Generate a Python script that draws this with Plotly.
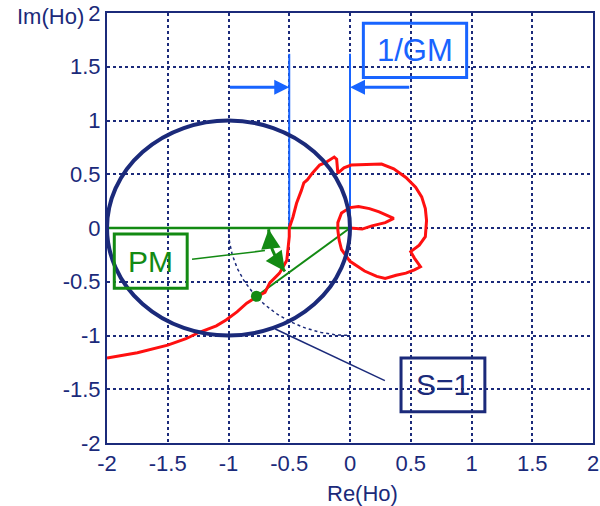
import numpy as np
import plotly.graph_objects as go

NAVY = "#1b2a7a"
RED = "#ff1010"
BLUE = "#1864ff"
GREEN = "#138a13"
FONT = "Liberation Sans, Arial, sans-serif"

# Nyquist curve of Ho
nyq_re = [-2.0, -1.75, -1.5, -1.35, -1.24, -1.1, -1.02, -0.93, -0.85, -0.8, -0.76, -0.7,
          -0.66, -0.58, -0.52, -0.5, -0.5, -0.47, -0.44, -0.4, -0.38, -0.35, -0.31, -0.25,
          -0.2, -0.13, -0.11, -0.1, -0.05, 0.01, 0.15, 0.26, 0.36, 0.46, 0.54, 0.59, 0.62,
          0.63, 0.62, 0.57, 0.5, 0.53, 0.58, 0.53, 0.46, 0.38, 0.29, 0.22, 0.12, 0.05, 0.0,
          -0.07, -0.09, -0.1, -0.1, -0.07, 0.0, 0.07, 0.16, 0.24, 0.36, 0.29, 0.18, 0.1, 0.0]
nyq_im = [-1.21, -1.16, -1.09, -1.03, -0.97, -0.91, -0.855, -0.78, -0.7, -0.66, -0.635, -0.6,
          -0.51, -0.42, -0.3, -0.08, 0.0, 0.1, 0.23, 0.35, 0.42, 0.45, 0.51, 0.585,
          0.61, 0.66, 0.64, 0.51, 0.56, 0.585, 0.59, 0.595, 0.55, 0.47, 0.38, 0.29, 0.18,
          0.07, -0.08, -0.16, -0.22, -0.28, -0.36, -0.39, -0.42, -0.44, -0.47, -0.45, -0.4, -0.35, -0.31,
          -0.2, -0.11, -0.02, 0.05, 0.14, 0.19, 0.2, 0.18, 0.15, 0.09, 0.05, 0.02, -0.01, 0.0]

tick_vals = [-2, -1.5, -1, -0.5, 0, 0.5, 1, 1.5, 2]
tick_text = ["-2", "-1.5", "-1", "-0.5", "0", "0.5", "1", "1.5", "2"]

# annotation geometry (data units)
pm_point = [-0.77, -0.635]
gm_crossing = -0.5
pm_arc_radius = 0.67
pm_arc_deg = [181, 217]

fig = go.Figure()

# dotted unit circle arc around origin
th = np.radians(np.linspace(180, 270, 60))
fig.add_trace(go.Scatter(x=np.cos(th), y=np.sin(th), mode="lines",
                         line=dict(color=NAVY, width=1.5, dash="dot"), hoverinfo="skip"))

# sensitivity circle S=1 : center -1, radius 1
fig.add_shape(type="circle", xref="x", yref="y", x0=-2, x1=0, y0=-1, y1=1,
              line=dict(color=NAVY, width=4), layer="above")

# blue GM lines
for xv in [gm_crossing, 0]:
    fig.add_trace(go.Scatter(x=[xv, xv], y=[0, 1.62], mode="lines",
                             line=dict(color=BLUE, width=2), hoverinfo="skip"))

# green horizontal at Im=0 and line to PM point
fig.add_trace(go.Scatter(x=[-2, 0], y=[0, 0], mode="lines",
                         line=dict(color=GREEN, width=2.5), hoverinfo="skip"))
fig.add_trace(go.Scatter(x=[0, pm_point[0]], y=[0, pm_point[1]], mode="lines",
                         line=dict(color=GREEN, width=2), hoverinfo="skip"))

# Nyquist curve
fig.add_trace(go.Scatter(x=nyq_re, y=nyq_im, mode="lines",
                         line=dict(color=RED, width=3), hoverinfo="skip"))

# PM arc
tha = np.radians(np.linspace(pm_arc_deg[0], pm_arc_deg[1], 30))
ax_ = pm_arc_radius * np.cos(tha)
ay_ = pm_arc_radius * np.sin(tha)
fig.add_trace(go.Scatter(x=ax_, y=ay_, mode="lines",
                         line=dict(color=GREEN, width=3), hoverinfo="skip"))

# PM point
fig.add_trace(go.Scatter(x=[pm_point[0]], y=[pm_point[1]], mode="markers",
                         marker=dict(color=GREEN, size=11), hoverinfo="skip"))

# leader lines
fig.add_trace(go.Scatter(x=[-1.30, -0.70], y=[-0.29, -0.21], mode="lines",
                         line=dict(color=GREEN, width=1.5), hoverinfo="skip"))
fig.add_trace(go.Scatter(x=[-0.615, 0.287], y=[-0.94, -1.42], mode="lines",
                         line=dict(color=NAVY, width=1.5), hoverinfo="skip"))

# boxes
fig.add_shape(type="rect", xref="x", yref="y", x0=0.11, x1=0.96, y0=1.40, y1=1.905,
              line=dict(color=BLUE, width=3))
fig.add_shape(type="rect", xref="x", yref="y", x0=-1.94, x1=-1.34, y0=-0.56, y1=-0.056,
              line=dict(color=GREEN, width=3))
fig.add_shape(type="rect", xref="x", yref="y", x0=0.42, x1=1.11, y0=-1.71, y1=-1.21,
              line=dict(color=NAVY, width=3))

annotations = [
    dict(x=0.535, y=1.65, text="1/GM", showarrow=False, font=dict(size=31, color=BLUE, family=FONT)),
    dict(x=-1.64, y=-0.31, text="PM", showarrow=False, font=dict(size=30, color=GREEN, family=FONT)),
    dict(x=0.765, y=-1.46, text="S=1", showarrow=False, font=dict(size=30, color=NAVY, family=FONT)),
    # GM arrows
    dict(x=gm_crossing, y=1.31, ax=-1.0, ay=1.31, axref="x", ayref="y", showarrow=True,
         arrowhead=2, arrowsize=1, arrowwidth=3, arrowcolor=BLUE, text=""),
    dict(x=0, y=1.31, ax=0.5, ay=1.31, axref="x", ayref="y", showarrow=True,
         arrowhead=2, arrowsize=1, arrowwidth=3, arrowcolor=BLUE, text=""),
    # PM arc arrowheads
    dict(x=float(ax_[0]), y=float(ay_[0]), ax=float(ax_[8]), ay=float(ay_[8]), axref="x", ayref="y",
         showarrow=True, arrowhead=2, arrowsize=1.3, arrowwidth=3, arrowcolor=GREEN, text=""),
    dict(x=float(ax_[-1]), y=float(ay_[-1]), ax=float(ax_[-9]), ay=float(ay_[-9]), axref="x", ayref="y",
         showarrow=True, arrowhead=2, arrowsize=1.3, arrowwidth=3, arrowcolor=GREEN, text=""),
    # axis titles
    dict(x=-2, y=2, xref="x", yref="y", text="Im(Ho)", showarrow=False, xanchor="right",
         yanchor="middle", xshift=-21, yshift=-3, font=dict(size=22, color=NAVY, family=FONT)),
    dict(x=0.1, y=0, xref="x", yref="paper", text="Re(Ho)", showarrow=False, xanchor="center",
         yanchor="middle", yshift=-50, font=dict(size=22, color=NAVY, family=FONT)),
]
fig.update_layout(annotations=annotations)

axis_common = dict(range=[-2, 2], tickvals=tick_vals, ticktext=tick_text, showgrid=True,
                   gridcolor=NAVY, gridwidth=1.5, griddash="dot", zeroline=False,
                   showline=True, linecolor=NAVY, linewidth=2, mirror=True, ticks="",
                   tickfont=dict(size=22, color=NAVY, family=FONT), fixedrange=True,
                   automargin=False)
fig.update_xaxes(**axis_common)
fig.update_yaxes(**axis_common)

fig.update_layout(width=600, height=506, margin=dict(l=107, r=7, t=13, b=63),
                  plot_bgcolor="white", paper_bgcolor="white", showlegend=False)

fig.write_html("out.html")
